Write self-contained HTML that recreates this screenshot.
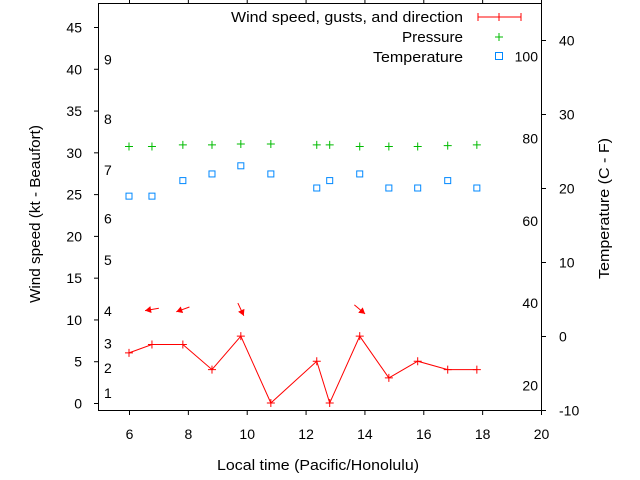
<!DOCTYPE html>
<html><head><meta charset="utf-8"><style>
body{margin:0;background:#fff}
svg{display:block;font-family:"Liberation Sans",sans-serif}
</style></head><body>
<svg id="chart" width="640" height="480" viewBox="0 0 640 480" xmlns="http://www.w3.org/2000/svg">
<g id="axes"></g>
<g id="marks"></g>
<g id="legend" font-size="15">
 <text x="231" y="22" textLength="232" lengthAdjust="spacingAndGlyphs">Wind speed, gusts, and direction</text>
 <g stroke="#f00" stroke-width="1"><line x1="478" y1="17" x2="521" y2="17"/><line x1="478" y1="13" x2="478" y2="21"/><line x1="521" y1="13" x2="521" y2="21"/><line x1="499" y1="13" x2="499" y2="21"/></g>
 <text x="402" y="42" textLength="61" lengthAdjust="spacingAndGlyphs">Pressure</text>
 <g stroke="#0b0"><line x1="495" y1="37" x2="503" y2="37"/><line x1="499" y1="33" x2="499" y2="41"/></g>
 <text x="373" y="62" textLength="90" lengthAdjust="spacingAndGlyphs">Temperature</text>
 <rect x="495.5" y="52.5" width="7" height="7" fill="none" stroke="#08f"/>
</g>
</svg>
<script>
const hours=[6.0,6.78,7.83,8.82,9.8,10.82,12.38,12.82,13.84,14.83,15.81,16.83,17.82];
const wind=[6,7,7,4,8,0,5,0,8,3,5,4,4];
const pressure=[30.7,30.7,30.9,30.9,31.0,31.0,30.9,30.9,30.7,30.7,30.7,30.8,30.9];
const tempC=[18.9,18.9,21.0,21.9,23.0,21.9,20.0,21.0,21.9,20.0,20.0,21.0,20.0];
const dirIdx=[1,2,4,8];
const dirDeg=[80,70,335,310];
const xTicks=[6,8,10,12,14,16,18,20];
const yTicks=[0,5,10,15,20,25,30,35,40,45];
const cTicks=[-10,0,10,20,30,40];
const fTicks=[20,40,60,80,100];
const beaufort=[[1,1.2],[2,4.2],[3,7.1],[4,11],[5,17.1],[6,22.1],[7,27.9],[8,34],[9,41.1]];
const L=98,R=541,T=3,B=410;
const X=h=>129+(h-6)*(412/14);
const Y=v=>403-v*(376/45);
const YC=c=>336-c*7.4;
const NS="http://www.w3.org/2000/svg";
function mk(p,t,a){const e=document.createElementNS(NS,t);for(const k in a)e.setAttribute(k,a[k]);p.appendChild(e);return e;}
const ax=document.getElementById('axes'),mg=document.getElementById('marks');
let fr=mk(ax,'rect',{x:L+.5,y:T+.5,width:R-L,height:B-T,fill:'none',stroke:'#000'});

xTicks.forEach(h=>{const x=X(h)+.5;
 mk(ax,'line',{x1:x,y1:B,x2:x,y2:B+5,stroke:'#000'});mk(ax,'line',{x1:x,y1:T,x2:x,y2:T-5,stroke:'#000'});
 let t=mk(ax,'text',{x:x,y:439,'font-size':14,'text-anchor':'middle'});t.textContent=h;
 });
yTicks.forEach(v=>{const y=Y(v)+.5;mk(ax,'line',{x1:L-4,y1:y,x2:L,y2:y,stroke:'#000'});
 let t=mk(ax,'text',{x:82,y:y+5,'font-size':14,'text-anchor':'end'});t.textContent=v;
 });
cTicks.forEach(c=>{const y=YC(c)+.5;mk(ax,'line',{x1:R,y1:y,x2:R+5,y2:y,stroke:'#000'});
 let t=mk(ax,'text',{x:559,y:y+5,'font-size':14});t.textContent=c;
 });
fTicks.forEach(f=>{const y=YC((f-32)/1.8);
 let t=mk(ax,'text',{x:538,y:y+5,'font-size':14,'text-anchor':'end'});t.textContent=f;
 });
beaufort.forEach(b=>{let t=mk(ax,'text',{x:104,y:Y(b[1])+5,'font-size':14});t.textContent=b[0];
 });
let xl=mk(ax,'text',{x:217,y:470,'font-size':15,textLength:202,lengthAdjust:'spacingAndGlyphs'});xl.textContent='Local time (Pacific/Honolulu)';

let yl=mk(ax,'text',{x:40,y:303,'font-size':15,textLength:178,lengthAdjust:'spacingAndGlyphs',transform:'rotate(-90 40 303)'});yl.textContent='Wind speed (kt - Beaufort)';

let yr=mk(ax,'text',{x:609,y:279,'font-size':15,textLength:141,lengthAdjust:'spacingAndGlyphs',transform:'rotate(-90 609 279)'});yr.textContent='Temperature (C - F)';

let pl=mk(mg,'polyline',{points:hours.map((h,i)=>X(h)+','+Y(wind[i])).join(' '),fill:'none',stroke:'#f00'});

hours.forEach((h,i)=>{const x=X(h),y=Y(wind[i]);
 let g=mk(mg,'path',{d:`M${x-4},${y}h8M${x},${y-4}v8`,stroke:'#f00'});
 
 const py=Y(pressure[i]);
 let p=mk(mg,'path',{d:`M${x-4},${py}h8M${x},${py-4}v8`,stroke:'#0b0'});
 
 const ty=YC(tempC[i]);
 let s=mk(mg,'rect',{x:x-3,y:ty-3,width:6,height:6,fill:'none',stroke:'#08f'});
 });
dirIdx.forEach((idx,k)=>{const cx=X(hours[idx]),cy=Y(11.2),a=dirDeg[k]*Math.PI/180;
 const dx=Math.sin(a),dy=-Math.cos(a);const len=7;
 const x1=cx+dx*len,y1=cy+dy*len,x2=cx-dx*len,y2=cy-dy*len;
 const px=-dy,py=dx;
 let g=mk(mg,'g',{});
 mk(g,'line',{x1:x1,y1:y1,x2:x2,y2:y2,stroke:'#f00'});
 mk(g,'polygon',{points:`${x2},${y2} ${x2+dx*6+px*3.5},${y2+dy*6+py*3.5} ${x2+dx*6-px*3.5},${y2+dy*6-py*3.5}`,fill:'#f00'});});
</script>
</body></html>
